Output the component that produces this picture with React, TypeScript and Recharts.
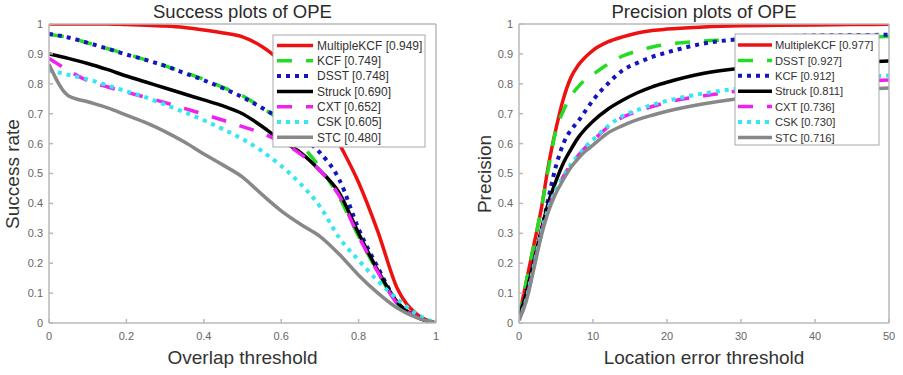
import { LineChart, Line, XAxis, YAxis } from 'recharts';

const FONT = '"Liberation Sans", Arial, sans-serif';

// ---- Success plot (left) ----
const overlapThresholds = [0, 0.05, 0.1, 0.15, 0.2, 0.25, 0.3, 0.35, 0.4, 0.45, 0.5, 0.55, 0.6, 0.65, 0.7, 0.75, 0.8, 0.85, 0.9, 0.95, 1];
const successLabels = ['MultipleKCF [0.949]', 'KCF [0.749]', 'DSST [0.748]', 'Struck [0.690]', 'CXT [0.652]', 'CSK [0.605]', 'STC [0.480]'];
const successMultipleKCF = [1, 1, 1, 1, 0.998, 0.996, 0.993, 0.988, 0.98, 0.97, 0.957, 0.925, 0.875, 0.81, 0.725, 0.6, 0.47, 0.305, 0.115, 0.03, 0];
const successKCF = [0.965, 0.955, 0.937, 0.918, 0.9, 0.88, 0.86, 0.838, 0.815, 0.788, 0.76, 0.72, 0.675, 0.6, 0.52, 0.42, 0.29, 0.17, 0.065, 0.02, 0];
const successDSST = [0.967, 0.955, 0.937, 0.918, 0.898, 0.88, 0.86, 0.836, 0.812, 0.785, 0.755, 0.72, 0.68, 0.625, 0.57, 0.48, 0.315, 0.185, 0.07, 0.022, 0];
const successStruck = [0.9, 0.885, 0.868, 0.848, 0.826, 0.806, 0.786, 0.766, 0.746, 0.726, 0.7, 0.658, 0.61, 0.57, 0.51, 0.435, 0.3, 0.175, 0.07, 0.02, 0];
const successCXT = [0.885, 0.845, 0.81, 0.79, 0.772, 0.755, 0.737, 0.718, 0.698, 0.678, 0.657, 0.635, 0.605, 0.565, 0.51, 0.425, 0.29, 0.17, 0.065, 0.02, 0];
const successCSK = [0.845, 0.83, 0.815, 0.795, 0.775, 0.755, 0.73, 0.705, 0.678, 0.648, 0.615, 0.575, 0.525, 0.465, 0.39, 0.285, 0.21, 0.14, 0.08, 0.03, 0];
const successSTC = [0.865, 0.76, 0.74, 0.72, 0.695, 0.67, 0.64, 0.605, 0.565, 0.528, 0.488, 0.43, 0.375, 0.33, 0.29, 0.23, 0.16, 0.1, 0.05, 0.018, 0];

// ---- Precision plot (right) ----
const locationThresholds = [0, 1, 2, 3, 4, 5, 6, 7, 8, 9, 10, 12, 14, 16, 18, 20, 25, 30, 35, 40, 45, 50];
const precisionLabels = ['MultipleKCF [0.977]', 'DSST [0.927]', 'KCF [0.912]', 'Struck [0.811]', 'CXT [0.736]', 'CSK [0.730]', 'STC [0.716]'];
const precisionMultipleKCF = [0.02, 0.14, 0.26, 0.38, 0.53, 0.65, 0.75, 0.82, 0.862, 0.89, 0.912, 0.94, 0.957, 0.97, 0.978, 0.983, 0.99, 0.994, 0.996, 0.997, 0.998, 0.999];
const precisionDSST = [0.02, 0.14, 0.26, 0.38, 0.52, 0.645, 0.71, 0.758, 0.79, 0.815, 0.832, 0.865, 0.893, 0.91, 0.923, 0.932, 0.943, 0.948, 0.952, 0.955, 0.957, 0.958];
const precisionKCF = [0.02, 0.1, 0.2, 0.3, 0.42, 0.525, 0.6, 0.645, 0.675, 0.71, 0.745, 0.8, 0.845, 0.87, 0.89, 0.905, 0.935, 0.95, 0.958, 0.962, 0.963, 0.964];
const precisionStruck = [0.02, 0.1, 0.205, 0.31, 0.405, 0.475, 0.535, 0.58, 0.62, 0.65, 0.675, 0.715, 0.745, 0.77, 0.79, 0.805, 0.835, 0.852, 0.862, 0.868, 0.872, 0.876];
const precisionCXT = [0.01, 0.08, 0.19, 0.3, 0.385, 0.445, 0.49, 0.53, 0.56, 0.588, 0.61, 0.655, 0.688, 0.708, 0.724, 0.738, 0.76, 0.777, 0.79, 0.8, 0.807, 0.813];
const precisionCSK = [0.01, 0.08, 0.19, 0.3, 0.385, 0.445, 0.49, 0.53, 0.56, 0.59, 0.613, 0.658, 0.692, 0.712, 0.73, 0.743, 0.768, 0.785, 0.798, 0.81, 0.82, 0.828];
const precisionSTC = [0.01, 0.075, 0.18, 0.29, 0.375, 0.435, 0.48, 0.52, 0.55, 0.575, 0.595, 0.635, 0.66, 0.68, 0.695, 0.708, 0.733, 0.752, 0.765, 0.773, 0.78, 0.786];

const rateTicks = [0, 0.1, 0.2, 0.3, 0.4, 0.5, 0.6, 0.7, 0.8, 0.9, 1];
const overlapTicks = [0, 0.2, 0.4, 0.6, 0.8, 1];
const locationTicks = [0, 10, 20, 30, 40, 50];

// line style by legend rank (same in both panels)
const styles = [
  { color: '#ee1111', dash: undefined, width: 3.5 },
  { color: '#22dd22', dash: '15 14', width: 3.5 },
  { color: '#1515c0', dash: '4 5', width: 4 },
  { color: '#000000', dash: undefined, width: 3.5 },
  { color: '#ee22ee', dash: '15 14', width: 3.5 },
  { color: '#33e8f0', dash: '4 5', width: 4 },
  { color: '#888888', dash: undefined, width: 3.5 },
];

const AXIS = '#b8b8b8';

function buildRows(xs: number[], series: number[][]) {
  return xs.map((x, i) => {
    const row: Record<string, number> = { x };
    series.forEach((s, k) => {
      row['s' + k] = s[i];
    });
    return row;
  });
}

const successRows = buildRows(overlapThresholds, [successMultipleKCF, successKCF, successDSST, successStruck, successCXT, successCSK, successSTC]);
const precisionRows = buildRows(locationThresholds, [precisionMultipleKCF, precisionDSST, precisionKCF, precisionStruck, precisionCXT, precisionCSK, precisionSTC]);

interface PanelProps {
  rows: Record<string, number>[];
  xDomain: [number, number];
  xTicks: number[];
  left: number;
  width: number;
  marginLeft: number;
}

function Panel({ rows, xDomain, xTicks, left, width, marginLeft }: PanelProps) {
  const tickStyle = { fill: '#666', fontSize: 11, fontFamily: FONT };
  return (
    <div style={{ position: 'absolute', left, top: 0 }}>
      <LineChart width={width} height={375} data={rows} margin={{ top: 20, right: 10, bottom: 22, left: marginLeft }}>
        <XAxis
          dataKey="x"
          type="number"
          domain={xDomain}
          ticks={xTicks}
          interval={0}
          allowDataOverflow
          height={30}
          tickSize={-4}
          tickMargin={13}
          stroke={AXIS}
          strokeWidth={1.5}
          tick={tickStyle}
        />
        <XAxis
          xAxisId="top"
          orientation="top"
          dataKey="x"
          type="number"
          domain={xDomain}
          ticks={xTicks}
          interval={0}
          allowDataOverflow
          height={4}
          tickSize={-4}
          stroke={AXIS}
          strokeWidth={1.5}
          tick={false}
        />
        <YAxis
          type="number"
          domain={[0, 1]}
          ticks={rateTicks}
          interval={0}
          allowDataOverflow
          width={40}
          tickSize={-4}
          tickMargin={10}
          stroke={AXIS}
          strokeWidth={1.5}
          tick={tickStyle}
        />
        <YAxis
          yAxisId="right"
          orientation="right"
          type="number"
          domain={[0, 1]}
          ticks={rateTicks}
          interval={0}
          allowDataOverflow
          width={4}
          tickSize={-4}
          stroke={AXIS}
          strokeWidth={1.5}
          tick={false}
        />
        {styles.map((st, k) => (
          <Line
            key={k}
            dataKey={'s' + k}
            type="monotone"
            stroke={st.color}
            strokeWidth={st.width}
            strokeDasharray={st.dash}
            strokeLinecap="butt"
            dot={false}
            activeDot={false}
            isAnimationActive={false}
          />
        ))}
      </LineChart>
    </div>
  );
}

interface LegendProps {
  x: number;
  y: number;
  w: number;
  h: number;
  labels: string[];
  rowY: number;
  rowGap: number;
  lx1: number;
  lx2: number;
  tx: number;
  fontSize: number;
}

function LegendBox({ x, y, w, h, labels, rowY, rowGap, lx1, lx2, tx, fontSize }: LegendProps) {
  return (
    <g>
      <rect x={x} y={y} width={w} height={h} fill="#fff" stroke="#a8a8a8" strokeWidth={1} />
      {labels.map((label, i) => {
        const cy = rowY + i * rowGap;
        const st = styles[i];
        return (
          <g key={label}>
            <line x1={lx1} x2={lx2} y1={cy} y2={cy} stroke={st.color} strokeWidth={st.width} strokeDasharray={st.dash} />
            <text x={tx} y={cy + 4.2} fontSize={fontSize} fill="#333" fontFamily={FONT}>
              {label}
            </text>
          </g>
        );
      })}
    </g>
  );
}

export default function App() {
  return (
    <div style={{ position: 'absolute', left: 0, top: 0, width: 903, height: 375, background: '#fff', overflow: 'hidden' }}>
      <Panel rows={successRows} xDomain={[0, 1]} xTicks={overlapTicks} left={0} width={450} marginLeft={9} />
      <Panel rows={precisionRows} xDomain={[0, 50]} xTicks={locationTicks} left={455} width={448} marginLeft={24} />
      <svg width={903} height={375} style={{ position: 'absolute', left: 0, top: 0, pointerEvents: 'none' }}>
        <text x={242.5} y={18.3} textAnchor="middle" fontSize={18.5} fill="#2b2b2b" fontFamily={FONT}>
          Success plots of OPE
        </text>
        <text x={704} y={18.3} textAnchor="middle" fontSize={18.5} fill="#2b2b2b" fontFamily={FONT}>
          Precision plots of OPE
        </text>
        <text x={242.5} y={363.5} textAnchor="middle" fontSize={19} fill="#333" fontFamily={FONT}>
          Overlap threshold
        </text>
        <text x={704} y={363.5} textAnchor="middle" fontSize={19} fill="#333" fontFamily={FONT}>
          Location error threshold
        </text>
        <text transform="translate(18.5,174) rotate(-90)" textAnchor="middle" fontSize={19} fill="#333" fontFamily={FONT}>
          Success rate
        </text>
        <text transform="translate(491,174) rotate(-90)" textAnchor="middle" fontSize={19} fill="#333" fontFamily={FONT}>
          Precision
        </text>
        <LegendBox x={273} y={35} w={152} h={112} labels={successLabels} rowY={45.5} rowGap={15.3} lx1={277} lx2={313} tx={317} fontSize={12} />
        <LegendBox x={735} y={34} w={144} h={111} labels={precisionLabels} rowY={45} rowGap={15.4} lx1={738} lx2={772} tx={775} fontSize={11.2} />
      </svg>
    </div>
  );
}
